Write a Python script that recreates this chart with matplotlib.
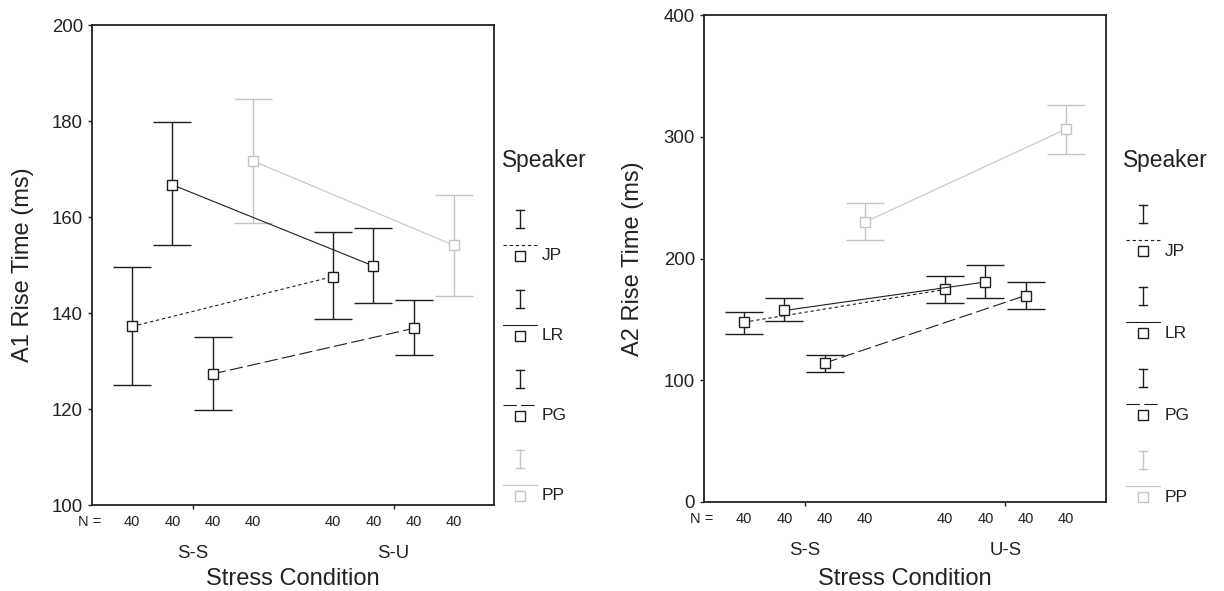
import matplotlib
matplotlib.use('Agg')
import matplotlib.pyplot as plt

plt.rcParams['font.family'] = ['Liberation Sans', 'DejaVu Sans']

# data (means and error bar ends, ms)
speakers = ['JP', 'LR', 'PG', 'PP']
n_per_cell = 40

a1_conditions = ['S-S', 'S-U']
a1_mean = [[137.2, 147.6], [166.7, 149.8], [127.3, 136.8], [171.7, 154.1]]
a1_upper = [[149.5, 156.8], [179.7, 157.8], [135.0, 142.7], [184.5, 164.5]]
a1_lower = [[124.9, 138.7], [154.2, 142.1], [119.7, 131.3], [158.7, 143.6]]

a2_conditions = ['S-S', 'U-S']
a2_mean = [[147.7, 174.6], [157.3, 180.7], [114.1, 169.6], [229.8, 306.2]]
a2_upper = [[156.4, 185.7], [167.2, 194.6], [120.9, 181.0], [245.8, 326.0]]
a2_lower = [[138.2, 163.5], [149.0, 167.2], [107.0, 158.8], [215.3, 285.9]]

colors = ['#1e1e1e', '#1e1e1e', '#1e1e1e', '#c4c4c4']
styles = [(0, (3, 2.5)), '-', (0, (12, 4)), '-']
offsets = [-0.3, -0.1, 0.1, 0.3]

W, H = 1224, 591
fig = plt.figure(figsize=(W / 100, H / 100), dpi=100)


def box(l, t, r, b):
    return [l / W, 1 - b / H, (r - l) / W, (b - t) / H]


def panel(ax, conds, mean, upper, lower, ylim, yticks, ylabel, ylab_x, xlab_y):
    for i in range(len(speakers)):
        xs = [c + offsets[i] for c in range(len(conds))]
        m = mean[i]
        err = [[m[j] - lower[i][j] for j in range(len(m))],
               [upper[i][j] - m[j] for j in range(len(m))]]
        ax.errorbar(xs, m, yerr=err, fmt='none', ecolor=colors[i],
                    elinewidth=1, capsize=13.7, capthick=1, zorder=2)
        ax.plot(xs, m, color=colors[i], linestyle=styles[i], lw=0.8,
                marker='s', ms=6.5, mfc='white', mec=colors[i], mew=1, zorder=3)
        for x in xs:
            ax.text(x, -0.035, str(n_per_cell), transform=ax.get_xaxis_transform(),
                    ha='center', va='center', fontsize=10.5, color='#222222')
    ax.text(-0.005, -0.035, 'N =', transform=ax.transAxes, ha='center',
            va='center', fontsize=10.5, color='#222222')

    ax.set_xlim(-0.5, 1.5)
    ax.set_ylim(*ylim)
    ax.set_yticks(yticks)
    ax.set_xticks(range(len(conds)))
    ax.set_xticklabels(conds)
    ax.tick_params(axis='x', length=3, width=1, pad=26, labelsize=13.4, colors='#222222')
    ax.tick_params(axis='y', length=3, width=1, labelsize=13.4, colors='#222222')
    for s in ax.spines.values():
        s.set_linewidth(1.3)
        s.set_color('#222222')

    ax.set_ylabel(ylabel, fontsize=17, va='center', color='#222222')
    ax.yaxis.set_label_coords(ylab_x, 0.5)
    ax.set_xlabel('Stress Condition', fontsize=17, va='center', color='#222222')
    ax.xaxis.set_label_coords(0.5, xlab_y)


ax1 = fig.add_axes(box(92, 25, 494, 505))
panel(ax1, a1_conditions, a1_mean, a1_upper, a1_lower, (100, 200),
      range(100, 201, 20), 'A1 Rise Time (ms)', -0.172, -0.154)

ax2 = fig.add_axes(box(704, 15, 1106, 502))
panel(ax2, a2_conditions, a2_mean, a2_upper, a2_lower, (0, 400),
      range(0, 401, 100), 'A2 Rise Time (ms)', -0.177, -0.158)

# legends drawn in pixel coordinates of the figure
lg = fig.add_axes([0, 0, 1, 1])
lg.set_xlim(0, W)
lg.set_ylim(H, 0)
lg.axis('off')


def legend(x0, title_x, y_first, step):
    lg.text(title_x, 160, 'Speaker', fontsize=16.4, ha='left', va='center', color='#222222')
    for i, spk in enumerate(speakers):
        y = y_first + i * step
        c = colors[i]
        lg.plot([x0, x0], [y - 46, y - 28], color=c, lw=1)
        lg.plot([x0 - 4, x0 + 4], [y - 46, y - 46], color=c, lw=1)
        lg.plot([x0 - 4, x0 + 4], [y - 28, y - 28], color=c, lw=1)
        lg.plot([x0 - 17, x0 + 17], [y - 11, y - 11], color=c, lw=0.8, linestyle=styles[i])
        lg.plot([x0], [y], marker='s', ms=6.5, mfc='white', mec=c, mew=1, ls='none')
        lg.text(x0 + 22, y, spk, fontsize=12.5, ha='left', va='center', color='#222222')


legend(520, 502, 256, 80)
legend(1143, 1123, 251, 82)

fig.savefig('out.png', dpi=100)
